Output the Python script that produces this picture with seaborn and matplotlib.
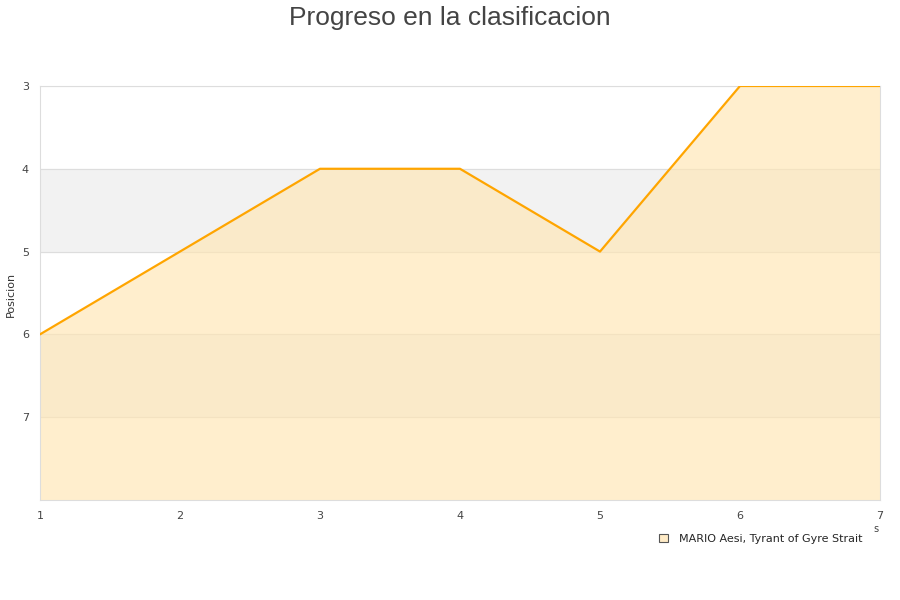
import pandas as pd
import matplotlib.pyplot as plt
import seaborn as sns
from matplotlib.patches import Patch

# Data
jornadas = [1, 2, 3, 4, 5, 6, 7]
posiciones = [6, 5, 4, 4, 5, 3, 3]
serie = 'MARIO Aesi, Tyrant of Gyre Strait'
y_ticks = [3, 4, 5, 6, 7]

df = pd.DataFrame({'Jornada': jornadas, 'Posicion': posiciones})

sns.set_style('white')
plt.rcParams['font.family'] = ['DejaVu Sans']

fig = plt.figure(figsize=(9, 6), dpi=100)
ax = fig.add_axes([0.0444, 0.1667, 0.9334, 0.69])

# alternating bands
for lo, hi in [(4, 5), (6, 7)]:
    ax.axhspan(lo, hi, color='#f2f2f2', zorder=0)
for y in y_ticks:
    ax.axhline(y, color='#dddddd', lw=0.8, zorder=1)

ax.fill_between(df['Jornada'], df['Posicion'], 8, color='#ffe6b3', alpha=0.65, lw=0, zorder=2)
sns.lineplot(data=df, x='Jornada', y='Posicion', color='#ffa500', lw=1.6, ax=ax, zorder=3)

ax.set_xlim(1, 7)
ax.set_ylim(8, 3)
ax.set_yticks(y_ticks)
ax.set_xticks(jornadas)
ax.tick_params(labelsize=8, colors='#444444', length=0, pad=8)
ax.set_xlabel('')
ax.set_ylabel('')
for s in ax.spines.values():
    s.set_color('#dddddd')

fig.text(0.012, 0.51, 'Posicion', fontsize=8, color='#333333', rotation=90,
         ha='center', va='center')
fig.suptitle('Progreso en la clasificacion', fontsize=19, color='#444444',
             y=0.99, family=['Liberation Sans', 'DejaVu Sans'])
fig.text(0.971, 0.113, 's', fontsize=7, color='#444444')

handle = Patch(facecolor='#ffebc6', edgecolor='#555555', lw=0.8)
fig.legend([handle], [serie], loc='center', bbox_to_anchor=(0.845, 0.102),
           frameon=False, fontsize=8, handlelength=0.8, handleheight=0.8,
           handletextpad=1.0)

fig.savefig('out.png', dpi=100)
